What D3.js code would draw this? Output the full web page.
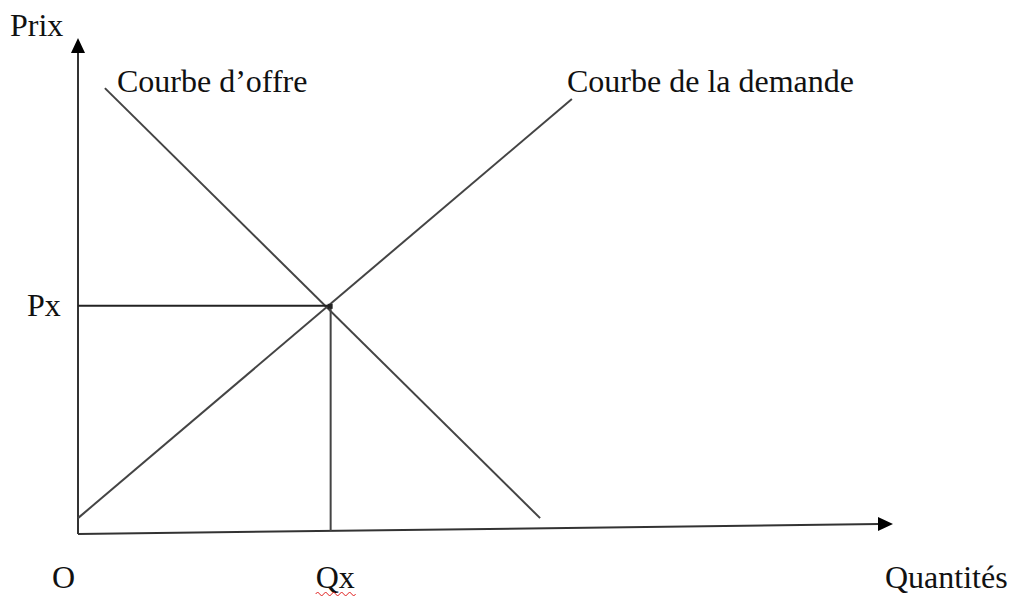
<!DOCTYPE html>
<html><head><meta charset="utf-8">
<script src="https://cdn.jsdelivr.net/npm/d3@7"></script>
<style>html,body{margin:0;padding:0;background:#fff;}svg{display:block;}</style>
</head><body>
<svg id="c" width="1011" height="597"></svg>
<script>
// Data (abstract units: quantity 0..100, price 0..100)
const demandCurve = [[0, 3.2], [60.6, 87.7]];      // "Courbe de la demande"
const supplyCurve = [[3.3, 89.9], [56.7, 3.2]];    // "Courbe d'offre"
const equilibrium = {q: 31, p: 46};                // Qx, Px
const xAxisEnd = [100, 2.0];
const yAxisTop = 100;
const axisTitles = ["Quantités", "Prix"];
const tickLabels = ["O", "Qx", "Px"];
const curveLabels = ["Courbe d\u2019offre", "Courbe de la demande"];

const svg = d3.select("#c");
const x = d3.scaleLinear().domain([0, 100]).range([78, 893]);
const y = d3.scaleLinear().domain([0, 100]).range([534, 38]);
const font = "'Liberation Serif','Times New Roman',serif";
const line = d3.line().x(d => x(d[0])).y(d => y(d[1]));

// axes
svg.append("path").attr("d", line([[0, 0], [0, yAxisTop - 3]]))
  .attr("stroke", "#333").attr("stroke-width", 2).attr("fill", "none");
svg.append("path").attr("d", line([[0, 0], [xAxisEnd[0] - 1.7, xAxisEnd[1]]]))
  .attr("stroke", "#333").attr("stroke-width", 2).attr("fill", "none");
// arrowheads
const yt = [x(0), y(yAxisTop)];
svg.append("path").attr("d", `M${yt[0]},${yt[1]} L${yt[0]-7},${yt[1]+15} L${yt[0]+7},${yt[1]+15} Z`).attr("fill", "#000");
const xt = [x(xAxisEnd[0]), y(xAxisEnd[1])];
svg.append("path").attr("d", `M${xt[0]},${xt[1]} L${xt[0]-15},${xt[1]-7} L${xt[0]-15},${xt[1]+7} Z`).attr("fill", "#000");

// curves
[demandCurve, supplyCurve].forEach(c => {
  svg.append("path").attr("d", line(c)).attr("stroke", "#444").attr("stroke-width", 2).attr("fill", "none");
});
// equilibrium guides
svg.append("path").attr("d", line([[0, equilibrium.p], [equilibrium.q, equilibrium.p]]))
  .attr("stroke", "#222").attr("stroke-width", 2).attr("fill", "none");
svg.append("path").attr("d", line([[equilibrium.q, equilibrium.p], [equilibrium.q, 0.6]]))
  .attr("stroke", "#444").attr("stroke-width", 2).attr("fill", "none");
svg.append("rect").attr("x", x(equilibrium.q) - 3).attr("y", y(equilibrium.p) - 2).attr("width", 5).attr("height", 5).attr("fill", "#222");

function txt(s, px, py, anchor) {
  svg.append("text").text(s).attr("x", px).attr("y", py).attr("text-anchor", anchor || "start")
    .attr("font-family", font).attr("font-size", 32).attr("fill", "#111");
}
txt(axisTitles[1], 10, 36);
txt(axisTitles[0], 885, 588);
txt(tickLabels[0], 52, 588);
txt(tickLabels[1], x(equilibrium.q) - 15, 588);
txt(tickLabels[2], 27, y(equilibrium.p) + 10);
txt(curveLabels[0], 117, 92);
txt(curveLabels[1], 567, 92);

// spellcheck wavy underline under Qx
const wx0 = x(equilibrium.q) - 15, wy = 594;
let d = `M${wx0},${wy}`;
for (let i = 0; i < 10; i++) d += ` l2,${i % 2 ? 2 : -2} l2,${i % 2 ? -2 : 2}`;
svg.append("path").attr("d", d).attr("stroke", "#e02020").attr("stroke-width", 1).attr("fill", "none");
</script>
</body></html>
